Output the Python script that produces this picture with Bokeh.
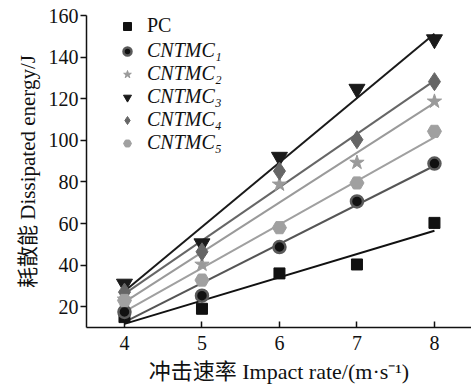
import numpy as np
from bokeh.plotting import figure
from bokeh.models import Legend, LegendItem, Range1d, FixedTicker
from bokeh.embed import file_html
from bokeh.resources import INLINE

speed = [4, 5, 6, 7, 8]
series_names = ["PC", "CNTMC₁", "CNTMC₂", "CNTMC₃", "CNTMC₄", "CNTMC₅"]
pc = [15, 19, 36, 40.3, 60.3]
cntmc1 = [17.5, 25.3, 48.7, 70.6, 88.8]
cntmc2 = [23.5, 40.3, 78.8, 89.3, 118.7]
cntmc3 = [31, 50.4, 92, 124.7, 148.5]
cntmc4 = [27, 46.4, 85.2, 100.3, 128.2]
cntmc5 = [23, 32.8, 58, 79.5, 104.3]
x_ticks = [4, 5, 6, 7, 8]
y_ticks = [20, 40, 60, 80, 100, 120, 140, 160]

SERIF = "Liberation Serif, Noto Sans CJK SC"

p = figure(width=471, height=389, output_backend="svg", toolbar_location=None,
           x_range=Range1d(3.51, 8.478), y_range=Range1d(10, 160),
           min_border_left=86, min_border_right=0, min_border_top=15, min_border_bottom=62)
p.outline_line_color = None
p.grid.visible = False
p.background_fill_color = "white"
p.border_fill_color = "white"

styles = [
    dict(data=pc, marker="square", fill="#111111", line="#111111", lw=1, lc="#111111", size=11),
    dict(data=cntmc1, marker="circle", fill="#111111", line="#5a5a5a", lw=2.5, lc="#555555", size=12),
    dict(data=cntmc2, marker="star", fill="#9a9a9a", line="#9a9a9a", lw=1, lc="#9a9a9a", size=15),
    dict(data=cntmc3, marker="inverted_triangle", fill="#1a1a1a", line="#1a1a1a", lw=1, lc="#1a1a1a", size=16),
    dict(data=cntmc4, marker="diamond", fill="#666666", line="#666666", lw=1, lc="#666666", size=18),
    dict(data=cntmc5, marker="hex", fill="#a0a0a0", line="#a0a0a0", lw=1, lc="#a0a0a0", size=14),
]

renderers = []
xs = np.array(speed, dtype=float)
for st in styles:
    ys = np.array(st["data"], dtype=float)
    k, b = np.polyfit(xs, ys, 1)
    p.line([xs[0], xs[-1]], [k * xs[0] + b, k * xs[-1] + b], line_color=st["lc"], line_width=2)
for st in styles:
    r = p.scatter(speed, st["data"], marker=st["marker"], size=st["size"],
                  fill_color=st["fill"], line_color=st["line"], line_width=st["lw"])
    renderers.append(r)

legend_common = dict(padding=0, spacing=0, margin=0, glyph_height=22, glyph_width=20,
                     label_height=22, label_standoff=10, border_line_color=None,
                     background_fill_alpha=0, label_text_font=SERIF,
                     label_text_font_size="20px", label_text_color="#111111")
leg1 = Legend(items=[LegendItem(label=series_names[0], renderers=[renderers[0]])],
              location=(31, 290), **legend_common)
leg2 = Legend(items=[LegendItem(label=n, renderers=[r]) for n, r in zip(series_names[1:], renderers[1:])],
              location=(31, 173), label_text_font_style="italic", **legend_common)
p.add_layout(leg1)
p.add_layout(leg2)

p.xaxis.ticker = FixedTicker(ticks=x_ticks)
p.yaxis.ticker = FixedTicker(ticks=y_ticks)
p.xaxis.minor_tick_line_color = None
p.yaxis.minor_tick_line_color = None
p.xaxis.major_tick_in = 6
p.xaxis.major_tick_out = 0
p.yaxis.major_tick_in = 0
p.yaxis.major_tick_out = 6
for ax in (p.xaxis, p.yaxis):
    ax.axis_line_width = 1.5
    ax.axis_line_color = "#111111"
    ax.major_tick_line_color = "#111111"
    ax.major_tick_line_width = 1.5
    ax.major_label_text_font = SERIF
    ax.major_label_text_font_size = "20px"
    ax.major_label_text_color = "#111111"
    ax.axis_label_text_font = SERIF
    ax.axis_label_text_font_style = "normal"
    ax.axis_label_text_color = "#111111"
p.xaxis.axis_label_text_font_size = "22px"
p.yaxis.axis_label_text_font_size = "21px"
p.xaxis.major_label_standoff = 8
p.yaxis.major_label_standoff = 2
p.xaxis.axis_label = "冲击速率 Impact rate/(m·s⁻¹)"
p.yaxis.axis_label = "耗散能 Dissipated energy/J"
p.xaxis.axis_label_standoff = 6
p.yaxis.axis_label_standoff = 6

open("out.html", "w").write(file_html(p, INLINE))
